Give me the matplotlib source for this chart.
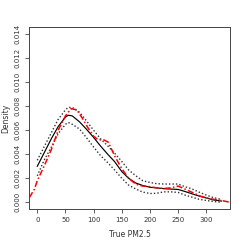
import matplotlib
matplotlib.use("Agg")
import matplotlib.pyplot as plt

# estimated density curve (black solid) with upper/lower bands (dotted)
x_est = [0, 12, 25, 37, 50, 55, 62, 75, 87, 100, 112, 125, 137, 150, 162, 175, 187, 200,
         212, 225, 237, 250, 262, 275, 287, 300, 312, 327]
mean_est = [0.0030, 0.0041, 0.0053, 0.0063, 0.0071, 0.00725, 0.0072, 0.0067, 0.0061, 0.0054,
            0.0047, 0.0040, 0.0034, 0.00256, 0.0020, 0.0016, 0.0014, 0.00125,
            0.0012, 0.00113, 0.0011, 0.00107, 0.0009, 0.0007, 0.00052, 0.00036, 0.0002, 0.0001]
upper_est = [0.0035, 0.0046, 0.0058, 0.0069, 0.0077, 0.0079, 0.0079, 0.0075, 0.0068, 0.0060,
             0.0053, 0.0047, 0.0041, 0.0034, 0.0027, 0.0022, 0.0018, 0.00165,
             0.00155, 0.00152, 0.00152, 0.00152, 0.0013, 0.0011, 0.00085, 0.0006, 0.0004, 0.00023]
lower_est = [0.0022, 0.0035, 0.0046, 0.0057, 0.0065, 0.00665, 0.0065, 0.0061, 0.0054, 0.0046,
             0.0039, 0.0033, 0.0027, 0.0020, 0.00143, 0.0011, 0.00085, 0.00073,
             0.00075, 0.00087, 0.00087, 0.00082, 0.0006, 0.00042, 0.00025, 0.00015, 0.00007, 0.0]

# kernel density of true values (red dashed)
x_true = [-14, -5, 0, 12, 25, 37, 50, 60, 70, 80, 90, 100, 108, 118, 126, 138, 150, 162,
          175, 187, 200, 212, 225, 237, 250, 262, 277, 290, 306, 327, 342]
dens_true = [0.0004, 0.0011, 0.0018, 0.0030, 0.0044, 0.0060, 0.0072, 0.0078, 0.0077, 0.0070,
             0.0062, 0.0055, 0.0052, 0.0052, 0.0050, 0.0038, 0.0028, 0.0020,
             0.0015, 0.00135, 0.0013, 0.0012, 0.00115, 0.0012, 0.00135, 0.0011, 0.00078,
             0.0005, 0.0003, 0.00015, 0.0]

xticks = [0, 50, 100, 150, 200, 250, 300]
yticks = [0.000, 0.002, 0.004, 0.006, 0.008, 0.010, 0.012, 0.014]

fig = plt.figure(figsize=(2.45, 2.45), dpi=100)
ax = fig.add_axes([29/245, 1 - 209/245, 201/245, 181.5/245])

ax.plot(x_est, mean_est, color="black", lw=0.85)
ax.plot(x_est, upper_est, color="#333333", lw=1.0, ls=(0, (1, 1.5)))
ax.plot(x_est, lower_est, color="#333333", lw=1.0, ls=(0, (1, 1.5)))
ax.plot(x_true, dens_true, color="red", lw=1.1, ls=(0, (4, 1.5, 1, 1.5)))

ax.set_xlim(-14.7, 342)
ax.set_ylim(-0.00056, 0.01456)
ax.set_xticks(xticks)
ax.set_xticklabels([str(t) for t in xticks])
ax.set_yticks(yticks)
ax.set_yticklabels(["%.3f" % t for t in yticks], rotation=90, va="center")
ax.tick_params(labelsize=5, length=3, width=0.6, color="#444444", labelcolor="#333333", pad=3)
for s in ax.spines.values():
    s.set_linewidth(0.7)
    s.set_color("#444444")
ax.set_xlabel("True PM2.5", fontsize=5.5, color="#333333", labelpad=5)
ax.set_ylabel("Density", fontsize=5.5, color="#333333", labelpad=3)

fig.savefig("out.png", dpi=100)
